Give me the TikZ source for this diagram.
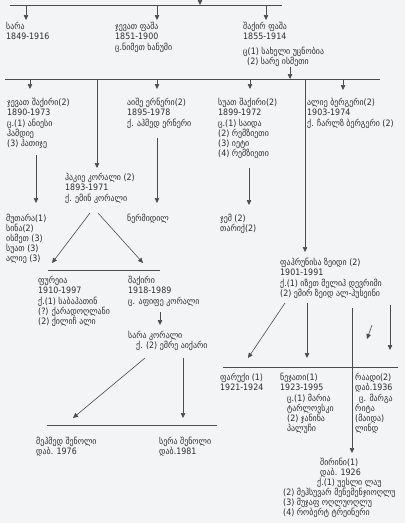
\documentclass[tikz,border=0pt]{standalone}
\usepackage{fontspec}
\setmainfont{DejaVu Sans Condensed}
\usetikzlibrary{arrows.meta}
\definecolor{paper}{RGB}{243,244,246}
\definecolor{ink}{RGB}{45,45,45}
\tikzset{
    person/.style={anchor=north west, inner sep=0pt, align=left, text=ink,
        font=\fontsize{8.8}{10}\selectfont},
    link/.style={draw=ink!85, line width=0.6pt},
    arr/.style={link, -{Triangle[length=5pt,width=4.5pt]}}
}
\begin{document}
\begin{tikzpicture}[x=1pt,y=-1pt]
    \fill[paper] (0,0) rectangle (405,523);
    \useasboundingbox (0,0) rectangle (405,523);

    \node[person] (A) at (6,22) {სარა\\1849-1916};
    \node[person] (B) at (115,22) {ჯევათ ფაშა\\1851-1900\\[1pt]ც.ნიმეთ ხანუმი};
    \node[person] (C) at (243,22) {შაქირ ფაშა\\1855-1914\\[5pt]ც(1) სახელი უცნობია\\\hspace*{4pt}(2) სარე ისმეთი};

    \node[person] (D) at (7,98) {ჯევათ შაქირი(2)\\1890-1973\\[1pt]ც.(1) ანიესი\\ჰამდიე\\(3) ჰათიჯე};
    \node[person] (E) at (127,98) {აიშე ერნერი(2)\\1895-1978\\[1pt]ქ. აჰმედ ერნერი};
    \node[person] (F) at (218,98) {სუათ შაქირი(2)\\1899-1972\\[1pt]ც.(1) საიდა\\(2) რემზიეთი\\(3) იეტი\\(4) რემზიეთი};
    \node[person] (G) at (307,98) {ალიე ბერგერი(2)\\1903-1974\\[1pt]ქ. ჩარლზ ბერგერი (2)};
    \node[person] (H) at (65,173) {ჰაკიე კორალი (2)\\1893-1971\\[1pt]ქ. ემინ კორალი};

    \node[person] (I) at (6,214) {მუთარა(1)\\სინა(2)\\ისმეთ (3)\\სუათ (3)\\ალიე (3)};
    \node[person] (J) at (127,214) {ნერმიდილ};
    \node[person] (K) at (220,214) {ჯემ (2)\\თარიქ(2)};

    \node[person] (L) at (38,276) {ფურეია\\1910-1997\\[1pt]ქ.(1) საბაჰათინ\\(?) ქარადოღლანი\\(2) ქილიჩ ალი};
    \node[person] (M) at (128,276) {შაქირი\\1918-1989\\[1pt]ც. აფიფე კორალი};
    \node[person] (N) at (128,331) {სარა კორალი\\\hspace*{8pt}ქ. (2) ემრე აიქარი};
    \node[person] (O) at (36,437) {მეჰმედ შენოლი\\დაბ. 1976};
    \node[person] (P) at (159,437) {სერა შენოლი\\დაბ.1981};

    \node[person] (Q) at (280,258) {ფაჰრუნისა ზეიდი (2)\\1901-1991\\[1pt]ქ.(1) იზეთ მელიჰ დევრიმი\\(2) ემირ ზეიდ ალ-ჰუსეინი};
    \node[person] (R) at (220,373) {ფარუქი (1)\\1921-1924};
    \node[person] (S) at (280,373) {ნეჯათი(1)\\1923-1995\\[1pt]\hspace*{7pt}ც.(1) მარია\\\hspace*{7pt}ტარლოვსკი\\\hspace*{7pt}(2) ჯანინა\\\hspace*{7pt}პალუჩი};
    \node[person] (T) at (355,373) {რაადი(2)\\დაბ.1936\\[1pt]\hspace*{4pt}ც. მარგა\\რიტა\\(მაიდა)\\ლინდ};
    \node[person] (U) at (283,458) {\hspace*{37pt}შირინი(1)\\\hspace*{37pt}დაბ. 1926\\\hspace*{34pt}ქ.(1) უესლი ლაუ\\(2) მეჰსუვარ მენემენჯიოღლუ\\(3) მუჯაფ ოღლუოღლუ\\(4) რობერტ ტრეინერი};

    \coordinate (bar1w) at (10,5);
    \coordinate (bar1e) at (282,5);
    \coordinate (bar2w) at (5,79);
    \coordinate (bar2e) at (380,79);
    \coordinate (bar3w) at (48,270);
    \coordinate (bar3e) at (160,270);
    \coordinate (bar4w) at (47,425);
    \coordinate (bar4e) at (217,425);
    \coordinate (bar5w) at (223,367);
    \coordinate (bar5e) at (398,367);

    \coordinate (top) at (200,-3);
    \coordinate (top-in) at (200,5);
    \coordinate (A1) at (26,5);
    \coordinate (A2) at (26,20);
    \coordinate (B1) at (157,5);
    \coordinate (B2) at (157,20);
    \coordinate (C1) at (266,5);
    \coordinate (C2) at (266,20);
    \coordinate (C3) at (290,67);
    \coordinate (C4) at (290,79);
    \coordinate (D1) at (30,79);
    \coordinate (D2) at (30,89);
    \coordinate (D3) at (36,155);
    \coordinate (D4) at (36,203);
    \coordinate (H1) at (97,79);
    \coordinate (H2) at (97,168);
    \coordinate (H3) at (90,213);
    \coordinate (H4) at (52,263);
    \coordinate (H5) at (98,213);
    \coordinate (H6) at (143,263);
    \coordinate (E1) at (157,79);
    \coordinate (E2) at (157,89);
    \coordinate (E3) at (157,138);
    \coordinate (E4) at (157,203);
    \coordinate (F1) at (250,79);
    \coordinate (F2) at (250,89);
    \coordinate (F3) at (249,168);
    \coordinate (F4) at (249,205);
    \coordinate (Q1) at (305,79);
    \coordinate (Q2) at (305,252);
    \coordinate (G1) at (343,79);
    \coordinate (G2) at (343,90);
    \coordinate (M1) at (160,312);
    \coordinate (M2) at (160,325);
    \coordinate (N1) at (145,358);
    \coordinate (N2) at (73,418);
    \coordinate (N3) at (183,358);
    \coordinate (N4) at (183,418);
    \coordinate (Q3) at (285,303);
    \coordinate (Q4) at (248,358);
    \coordinate (Q5) at (307,303);
    \coordinate (Q6) at (307,358);
    \coordinate (Q7) at (352,308);
    \coordinate (Q8) at (352,453);
    \coordinate (Q9) at (390,305);
    \coordinate (Q10) at (390,350);
    \coordinate (mark1) at (372,325);
    \coordinate (mark2) at (367,339);

    \draw[link] (bar1w) -- (bar1e);
    \draw[link] (bar2w) -- (bar2e);
    \draw[link] (bar3w) -- (bar3e);
    \draw[link] (bar4w) -- (bar4e);
    \draw[link] (bar5w) -- (bar5e);

    \draw[arr] (top) -- (top-in);
    \draw[arr] (A1) -- (A2);
    \draw[arr] (B1) -- (B2);
    \draw[arr] (C1) -- (C2);
    \draw[arr] (C3) -- (C4);
    \draw[arr] (D1) -- (D2);
    \draw[arr] (D3) -- (D4);
    \draw[arr] (H1) -- (H2);
    \draw[arr] (H3) -- (H4);
    \draw[arr] (H5) -- (H6);
    \draw[arr] (E1) -- (E2);
    \draw[arr] (E3) -- (E4);
    \draw[arr] (F1) -- (F2);
    \draw[arr] (F3) -- (F4);
    \draw[arr] (Q1) -- (Q2);
    \draw[arr] (G1) -- (G2);
    \draw[arr] (M1) -- (M2);
    \draw[arr] (N1) -- (N2);
    \draw[arr] (N3) -- (N4);
    \draw[arr] (Q3) -- (Q4);
    \draw[arr] (Q5) -- (Q6);
    \draw[arr] (Q7) -- (Q8);
    \draw[arr] (Q9) -- (Q10);
    \draw[arr] (mark1) -- (mark2);
\end{tikzpicture}
\end{document}
